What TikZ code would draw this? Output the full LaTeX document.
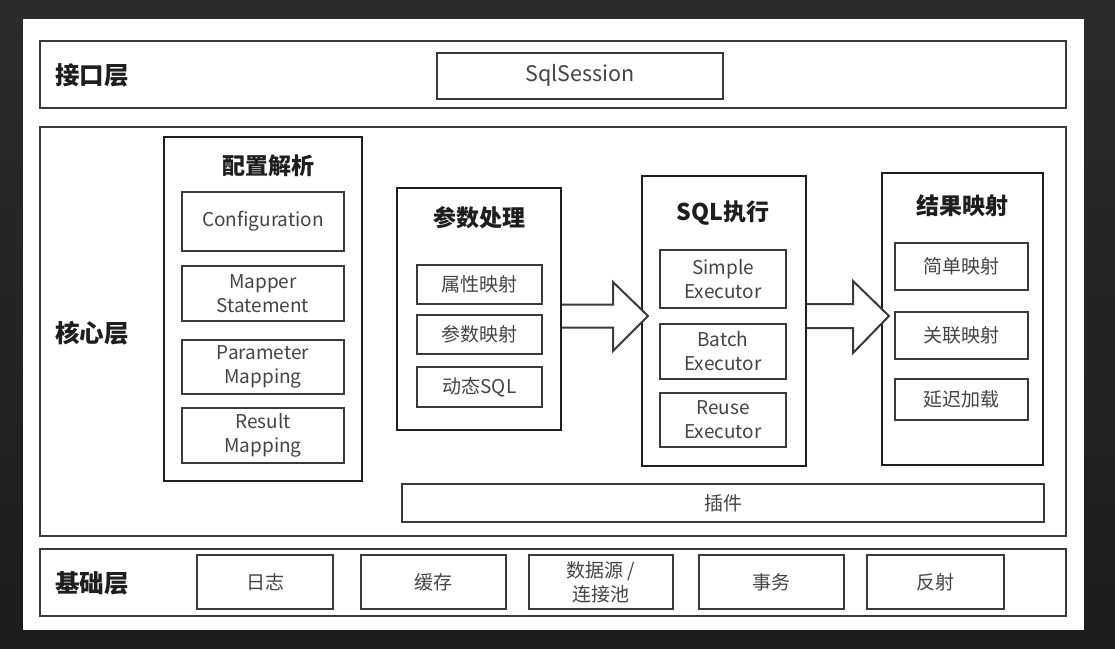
\documentclass[tikz,border=0pt]{standalone}
\usepackage{fontspec}
\setmainfont{Noto Sans CJK SC}
\usetikzlibrary{calc}
\definecolor{linec}{HTML}{3A3A3A}
\definecolor{txtc}{HTML}{444444}
\definecolor{titc}{HTML}{1E1E1E}
\tikzset{
  layerbox/.style={draw=linec, line width=2pt, fill=white, inner sep=0pt},
  groupbox/.style={draw=titc, line width=2.2pt, fill=white, inner sep=0pt},
  itembox/.style={draw=linec, line width=2pt, fill=white, inner sep=0pt, align=center, text=txtc,
    font=\fontsize{19pt}{24pt}\selectfont},
  layerlabel/.style={anchor=west, text=titc, inner sep=0pt, font=\fontsize{24.5pt}{28pt}\selectfont\bfseries},
  grouptitle/.style={text=titc, inner sep=0pt, font=\fontsize{23pt}{26pt}\selectfont\bfseries},
  blockarrow/.style={draw=linec, line width=2pt, fill=white, line join=miter},
}
\begin{document}
\begin{tikzpicture}[x=1pt,y=-1pt]
\useasboundingbox (0,0) rectangle (1115,648);
\shade[top color=black!83, bottom color=black!89] (0,0) rectangle (1115,648);
\fill[white] (23,19) rectangle (1084,630);

% layers
\node[layerbox, minimum width=1026pt, minimum height=67pt] (iface) at (553,74.5) {};
\node[layerbox, minimum width=1026pt, minimum height=409pt] (core) at (553,331.5) {};
\node[layerbox, minimum width=1026pt, minimum height=67pt] (base) at (553,582.5) {};
\node[layerlabel] (ifaceL) at (55,75) {接口层};
\node[layerlabel] (coreL) at (55,333) {核心层};
\node[layerlabel] (baseL) at (55,583) {基础层};

% interface
\node[itembox, minimum width=286pt, minimum height=46pt, font=\fontsize{21.5pt}{26pt}\selectfont] (sess) at (580,75.5) {SqlSession};

% config parsing
\node[groupbox, minimum width=198pt, minimum height=344pt] (cfg) at (263,309) {};
\node[grouptitle] (cfgT) at (268,166) {配置解析};
\node[itembox, minimum width=162pt, minimum height=59pt] (conf) at (263,221.5) {Configuration};
\node[itembox, minimum width=162pt, minimum height=55pt] (mst) at (263,293.5) {Mapper\\Statement};
\node[itembox, minimum width=162pt, minimum height=54pt] (pmap) at (263,367) {Parameter\\Mapping};
\node[itembox, minimum width=162pt, minimum height=55pt] (rmap) at (263,435.5) {Result\\Mapping};

% parameter handling
\node[groupbox, line width=2pt, minimum width=164pt, minimum height=242pt] (param) at (479,309) {};
\node[grouptitle] (paramT) at (479,218) {参数处理};
\node[itembox, minimum width=125pt, minimum height=39pt] (p1) at (479.5,284.5) {属性映射};
\node[itembox, minimum width=125pt, minimum height=39pt] (p2) at (479.5,334.5) {参数映射};
\node[itembox, minimum width=125pt, minimum height=40pt] (p3) at (479.5,387) {动态SQL};

% sql execution
\node[groupbox, line width=2pt, minimum width=164pt, minimum height=290pt] (sql) at (724,321) {};
\node[grouptitle] (sqlT) at (723,213) {SQL执行};
\node[itembox, minimum width=126pt, minimum height=58pt] (e1) at (723,279) {Simple\\Executor};
\node[itembox, minimum width=126pt, minimum height=55pt] (e2) at (723,351.5) {Batch\\Executor};
\node[itembox, minimum width=126pt, minimum height=54pt] (e3) at (723,420) {Reuse\\Executor};

% result mapping
\node[groupbox, line width=2pt, minimum width=161pt, minimum height=292pt] (res) at (962.5,319) {};
\node[grouptitle] (resT) at (962,206) {结果映射};
\node[itembox, minimum width=133pt, minimum height=47pt] (r1) at (961.5,266.5) {简单映射};
\node[itembox, minimum width=133pt, minimum height=47pt] (r2) at (961.5,335.5) {关联映射};
\node[itembox, minimum width=133pt, minimum height=41pt] (r3) at (961.5,399.5) {延迟加载};

% plugin
\node[itembox, minimum width=642pt, minimum height=38pt] (plug) at (723,503) {插件};

% arrows
\coordinate (a1s) at (param.east |- 0,316);
\coordinate (a1t) at ($(sql.west |- 0,316)+(7,0)$);
\draw[blockarrow] ($(a1s)+(0,-11.5)$) -- ($(a1t)+(-35,-11.5)$) -- ($(a1t)+(-35,-34)$) -- (a1t)
  -- ($(a1t)+(-35,35)$) -- ($(a1t)+(-35,11.5)$) -- ($(a1s)+(0,11.5)$);
\coordinate (a2s) at (sql.east |- 0,316);
\coordinate (a2t) at ($(res.west |- 0,316)+(8,0)$);
\draw[blockarrow] ($(a2s)+(0,-12)$) -- ($(a2t)+(-36,-12)$) -- ($(a2t)+(-36,-35)$) -- (a2t)
  -- ($(a2t)+(-36,37)$) -- ($(a2t)+(-36,12)$) -- ($(a2s)+(0,12)$);

% base layer
\node[itembox, minimum width=136pt, minimum height=54pt] (log) at (265,582) {日志};
\node[itembox, minimum width=145pt, minimum height=54pt] (cache) at (433.5,582) {缓存};
\node[itembox, minimum width=144pt, minimum height=54pt] (ds) at (601,582) {数据源 /\\连接池};
\node[itembox, minimum width=145pt, minimum height=54pt] (tx) at (771.5,582) {事务};
\node[itembox, minimum width=137pt, minimum height=54pt] (refl) at (935.5,582) {反射};
\end{tikzpicture}
\end{document}
